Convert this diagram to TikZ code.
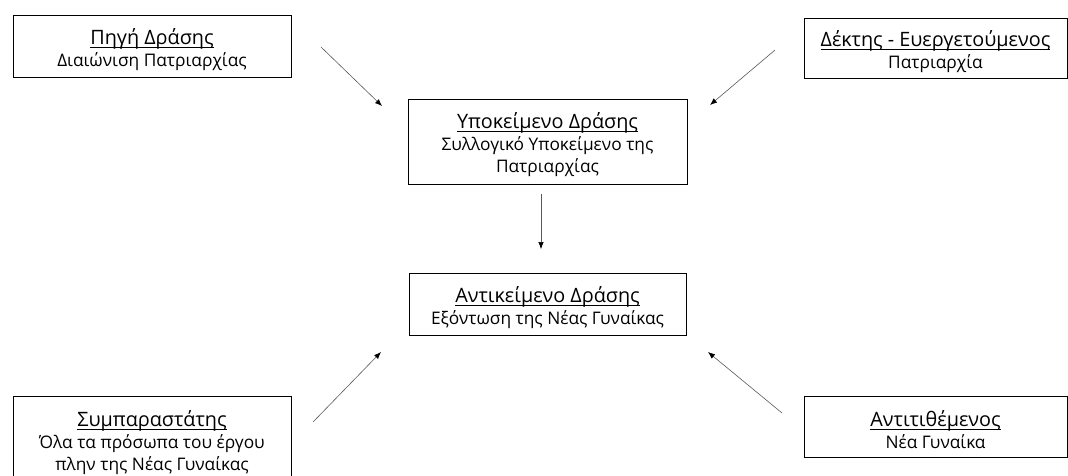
\documentclass[tikz,border=0pt]{standalone}
\usepackage{fontspec}
\setmainfont{Open Sans}
\usetikzlibrary{arrows.meta}
% heading line: slightly larger type, underline running through the
% descenders, and a strut that sets the text block inside its frame
\newcommand\headline[1]{\setbox0\hbox{\fontsize{19.8}{22}\selectfont #1}%
  \rule{0pt}{23pt}\rlap{\rule[-3pt]{\wd0}{0.8pt}}\box0}
\tikzset{
  role/.style={draw, line width=0.9pt, align=center, inner sep=0pt,
    font=\fontsize{17.3}{22}\selectfont},
  link/.style={draw=black!65, line width=0.6pt,
    -{Latex[length=7pt,width=5.5pt,fill=black,color=black]}}
}
\begin{document}
\begin{tikzpicture}[x=1pt,y=-1pt]
\clip (0,0) rectangle (1068,475);
\useasboundingbox (0,0) rectangle (1068,475);

\node[role, minimum width=278pt, minimum height=62pt] (source) at (152,46)
  {\headline{Πηγή Δράσης}\\Διαιώνιση Πατριαρχίας};
\node[role, minimum width=263pt, minimum height=60pt] (receiver) at (935.5,48)
  {\headline{Δέκτης - Ευεργετούμενος}\\Πατριαρχία};
\node[role, minimum width=279pt, minimum height=85pt] (subject) at (547.5,141.5)
  {\headline{Υποκείμενο Δράσης}\\Συλλογικό Υποκείμενο της\\Πατριαρχίας};
\node[role, minimum width=277pt, minimum height=62pt] (object) at (547.5,304)
  {\headline{Αντικείμενο Δράσης}\\Εξόντωση της Νέας Γυναίκας};
\node[role, minimum width=278pt, minimum height=86pt] (helper) at (152,439)
  {\headline{Συμπαραστάτης}\\Όλα τα πρόσωπα του έργου\\πλην της Νέας Γυναίκας};
\node[role, minimum width=263pt, minimum height=61pt] (opponent) at (935.5,426.5)
  {\headline{Αντιτιθέμενος}\\Νέα Γυναίκα};

% free ends of the arrows
\coordinate (s1) at (321,47);   \coordinate (e1) at (382,106);
\coordinate (s2) at (775,50);   \coordinate (e2) at (710,105);
\coordinate (s3) at (541,194);  \coordinate (e3) at (541,249);
\coordinate (s4) at (313,422);  \coordinate (e4) at (381,352);
\coordinate (s5) at (782,413);  \coordinate (e5) at (708,352);

\draw[link] (s1) -- (e1);
\draw[link] (s2) -- (e2);
\draw[link] (s3) -- (e3);
\draw[link] (s4) -- (e4);
\draw[link] (s5) -- (e5);
\end{tikzpicture}
\end{document}
